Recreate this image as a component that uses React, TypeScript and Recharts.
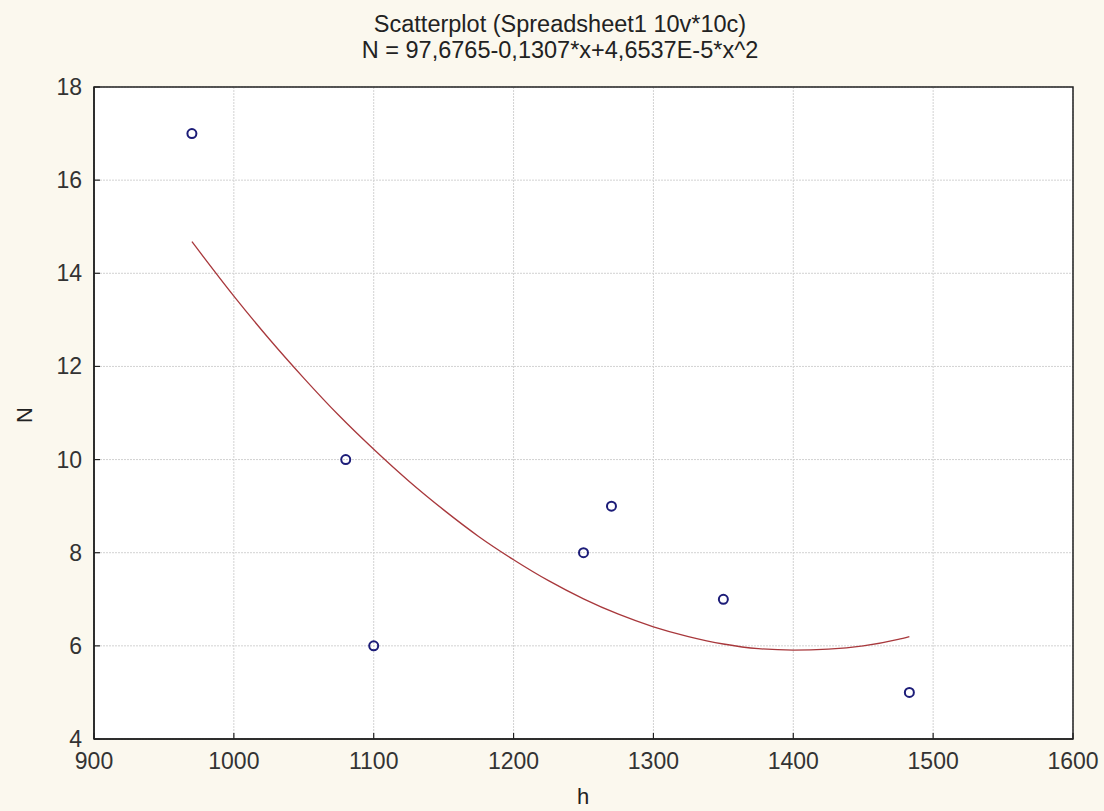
import { ScatterChart, Scatter, XAxis, YAxis, CartesianGrid, ReferenceArea } from 'recharts';

// observed points (h, N)
const hValues = [970, 1080, 1100, 1250, 1270, 1350, 1483];
const nValues = [17, 10, 6, 8, 9, 7, 5];

// fitted curve
const curveH = [970, 1000, 1025, 1050, 1075, 1100, 1125, 1150, 1175, 1200, 1225, 1250, 1275, 1300, 1325, 1350, 1375, 1400, 1425, 1450, 1475, 1483];
const curveN = [14.68, 13.51, 12.6, 11.75, 10.95, 10.22, 9.54, 8.92, 8.35, 7.85, 7.4, 7.01, 6.68, 6.41, 6.2, 6.04, 5.94, 5.91, 5.93, 6.0, 6.14, 6.2];

const xMajor = [900, 1000, 1100, 1200, 1300, 1400, 1500, 1600];
const xMinor = [920, 940, 960, 980, 1020, 1040, 1060, 1080, 1120, 1140, 1160, 1180, 1220, 1240, 1260, 1280, 1320, 1340, 1360, 1380, 1420, 1440, 1460, 1480, 1520, 1540, 1560, 1580];
const yMajor = [4, 6, 8, 10, 12, 14, 16, 18];
const yMinor = [5, 7, 9, 11, 13, 15, 17];

const points = hValues.map((h, i) => ({ h, n: nValues[i] }));
const curve = curveH.map((h, i) => ({ h, n: curveN[i] }));

const FONT = '"Liberation Sans", Arial, sans-serif';
const AXIS = '#222222';

const BottomTick = ({ x, y, payload }: any) => (
  <g>
    <line x1={x} x2={x} y1={y} y2={y - 6} stroke={AXIS} strokeWidth={1.2} />
    <text x={x} y={y + 30} textAnchor="middle" fontSize={23} fill="#333" fontFamily={FONT}>
      {payload.value}
    </text>
  </g>
);

const LeftTick = ({ x, y, payload }: any) => (
  <g>
    <line x1={x} x2={x + 6} y1={y} y2={y} stroke={AXIS} strokeWidth={1.2} />
    <text x={x - 12} y={y + 8} textAnchor="end" fontSize={23} fill="#333" fontFamily={FONT}>
      {payload.value}
    </text>
  </g>
);

// small inward tick marks, no labels
const MarkUp = ({ x, y }: any) => <line x1={x} x2={x} y1={y} y2={y - 3} stroke="#444" strokeWidth={1.2} />;
const MarkDown = ({ x, y, payload }: any) => <line x1={x} x2={x} y1={y} y2={y + (xMajor.includes(payload.value) ? 6 : 3)} stroke="#444" strokeWidth={1.2} />;
const MarkRight = ({ x, y }: any) => <line x1={x} x2={x + 3} y1={y} y2={y} stroke="#444" strokeWidth={1.2} />;
const MarkLeft = ({ x, y, payload }: any) => <line x1={x} x2={x - (yMajor.includes(payload.value) ? 6 : 3)} y1={y} y2={y} stroke="#444" strokeWidth={1.2} />;

const xCommon = { dataKey: 'h', type: 'number' as const, domain: [900, 1600], interval: 0, tickSize: 0, tickMargin: 0, tickLine: false, allowDataOverflow: true };
const yCommon = { dataKey: 'n', type: 'number' as const, domain: [4, 18], interval: 0, tickSize: 0, tickMargin: 0, tickLine: false, allowDataOverflow: true };

export default function App() {
  return (
    <div style={{ position: 'absolute', left: 0, top: 0, width: 1104, height: 811, background: '#fbf8ee', fontFamily: FONT }}>
      {/* white plot panel behind the svg */}
      <div style={{ position: 'absolute', left: 94, top: 87, width: 979, height: 652, background: '#ffffff' }} />
      <div style={{ position: 'absolute', top: 11, width: 1120, textAlign: 'center', fontSize: 23.5, color: '#222', lineHeight: '26px' }}>
        Scatterplot (Spreadsheet1 10v*10c)
      </div>
      <div style={{ position: 'absolute', top: 37, width: 1120, textAlign: 'center', fontSize: 23.5, color: '#222', lineHeight: '26px' }}>
        N = 97,6765-0,1307*x+4,6537E-5*x^2
      </div>
      <ScatterChart width={1104} height={811} margin={{ top: 87, right: 31, bottom: 32, left: 34 }}>
        <CartesianGrid stroke="#d2d2d2" strokeDasharray="2 1" />
        <XAxis {...xCommon} xAxisId="bminor" ticks={xMinor} height={0} axisLine={false} tick={<MarkUp />} />
        <XAxis {...xCommon} ticks={xMajor} height={40} tick={<BottomTick />} axisLine={{ stroke: AXIS, strokeWidth: 1.5 }} />
        <XAxis
          {...xCommon}
          xAxisId="top"
          orientation="top"
          ticks={[...xMajor, ...xMinor]}
          height={0}
          tick={<MarkDown />}
          axisLine={{ stroke: AXIS, strokeWidth: 1.5 }}
        />
        <YAxis {...yCommon} yAxisId="lminor" ticks={yMinor} width={0} axisLine={false} tick={<MarkRight />} />
        <YAxis {...yCommon} ticks={yMajor} width={60} tick={<LeftTick />} axisLine={{ stroke: AXIS, strokeWidth: 1.5 }} />
        <YAxis
          {...yCommon}
          yAxisId="right"
          orientation="right"
          ticks={[...yMajor, ...yMinor]}
          width={0}
          tick={<MarkLeft />}
          axisLine={{ stroke: AXIS, strokeWidth: 1.5 }}
        />
        <ReferenceArea x1={900} x2={1600} y1={4} y2={18} fill="none" fillOpacity={0} stroke={AXIS} strokeWidth={1.5} ifOverflow="visible" />
        <Scatter
          data={curve}
          line={{ stroke: '#a8383c', strokeWidth: 1.3 }}
          lineJointType="monotoneX"
          shape={() => null}
          isAnimationActive={false}
        />
        <Scatter
          data={points}
          shape={(p: any) => (
            <circle cx={p.cx} cy={p.cy} r={4.5} fill="none" stroke="#1c1c78" strokeWidth={2} />
          )}
          isAnimationActive={false}
        />
      </ScatterChart>
      <div style={{ position: 'absolute', top: 785, left: 577, fontSize: 22, color: '#222', lineHeight: '24px' }}>
        h
      </div>
      <div style={{ position: 'absolute', left: 17, top: 403, fontSize: 22, color: '#222', lineHeight: '24px', transform: 'rotate(-90deg)' }}>
        N
      </div>
    </div>
  );
}
